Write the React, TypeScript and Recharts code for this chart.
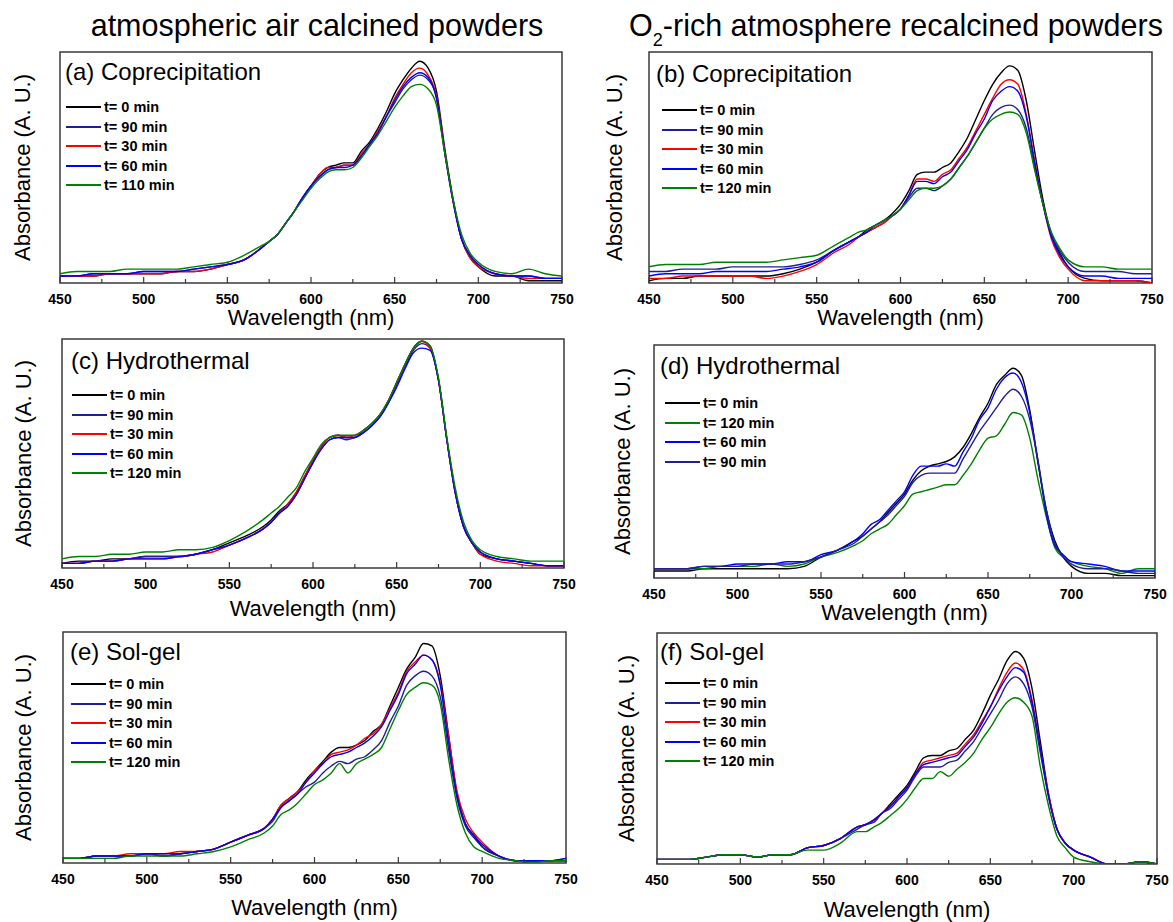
import React from 'react';
import { LineChart, Line, XAxis, YAxis, Legend, ReferenceArea } from 'recharts';

const FONT = 'Arial, "Liberation Sans", Helvetica, sans-serif';
const FRAME = '#3a3a3a';

// shared wavelength grid (nm)
const wavelengths = [450, 460, 470, 480, 490, 500, 510, 520, 530, 540,
  550, 560, 570, 575, 580, 585, 590, 595, 600, 605,
  610, 615, 620, 625, 630, 635, 640, 645, 650, 655,
  660, 665, 670, 675, 680, 685, 690, 695, 700, 710,
  720, 730, 740, 750];
const xTicks = [450, 475, 500, 525, 550, 575, 600, 625, 650, 675, 700, 725, 750];

const COLOR_BLACK = '#000000';
const COLOR_NAVY = '#1f1f96';
const COLOR_RED = '#ff0000';
const COLOR_BLUE = '#0000ff';
const COLOR_GREEN = '#008000';

// (a) atmospheric air, coprecipitation (absorbance, % of axis height)
const aT0 = [3,3,3,4,4,4,4,5,5,6, 8,10,15,18,21,26,31,37,42,47, 50,51,52,52,57,61,67,74,82,88, 93,96,93,83,58,36,19,11,7,3, 3,1,1,1];
const aT90 = [3,3,4,4,4,5,5,5,6,7, 8,10,15,18,21,26,31,37,42,46, 49,50,51,51,55,60,65,72,78,84, 88,90,88,80,56,35,19,12,8,4, 3,3,2,2];
const aT30 = [3,3,3,4,4,4,4,5,5,6, 8,10,15,18,21,26,31,37,42,47, 50,50,51,51,56,60,66,72,80,86, 91,93,90,81,57,35,19,11,7,4, 3,2,2,2];
const aT60 = [3,3,4,4,4,5,5,5,6,7, 8,10,15,18,21,26,31,37,42,46, 49,50,50,51,55,60,65,72,79,85, 89,91,89,80,56,35,19,12,8,4, 3,3,2,2];
const aT110 = [4,5,5,5,6,6,6,6,7,8, 9,12,16,18,21,26,31,36,41,45, 48,49,49,50,54,59,64,70,76,81, 85,86,84,77,56,36,21,13,9,5, 4,6,4,3];

// (b) O2-rich, coprecipitation
const bT0 = [1,2,2,3,3,3,3,3,4,6, 9,14,18,20,23,25,27,30,34,40, 47,48,48,50,52,57,63,71,79,86, 91,94,92,79,57,36,21,13,7,2, 1,1,1,0];
const bT90 = [5,5,6,6,6,7,7,7,7,8, 10,14,18,20,22,24,26,29,32,37, 41,41,40,42,45,50,55,61,67,73, 76,77,75,67,50,34,21,14,9,5, 5,5,4,4];
const bT30 = [2,2,3,3,3,3,3,2,3,5, 8,13,17,20,22,24,26,29,32,38, 45,45,44,47,49,54,59,66,73,80, 86,88,86,73,53,34,19,11,6,1, 1,1,1,0];
const bT60 = [3,4,4,4,5,5,5,5,6,7, 9,14,18,20,22,25,27,29,32,38, 44,44,43,46,48,53,58,65,71,79, 83,85,83,72,52,34,20,12,7,3, 3,2,2,2];
const bT120 = [7,8,8,8,9,9,9,9,10,11, 12,16,20,22,23,25,27,29,32,36, 40,41,41,42,45,50,55,61,67,71, 73,74,73,65,49,34,22,15,10,7, 7,6,6,6];

// (c) atmospheric air, hydrothermal
const cT0 = [2,3,3,4,4,5,5,5,6,8, 11,14,18,21,25,28,33,40,47,53, 57,58,57,57,60,63,67,73,81,89, 96,99,97,82,56,33,18,11,6,4, 3,2,1,1];
const cT90 = [2,2,3,3,4,5,5,5,6,8, 10,13,17,20,24,27,32,39,46,52, 56,57,56,57,59,62,66,72,80,88, 95,98,96,82,56,33,18,11,7,4, 3,2,1,1];
const cT30 = [2,2,3,3,4,4,4,5,6,7, 10,13,17,20,24,28,33,40,47,53, 57,58,57,58,60,63,67,73,81,89, 96,99,96,82,56,33,18,11,6,3, 2,1,1,1];
const cT60 = [2,2,3,3,4,4,4,5,6,8, 10,13,17,20,24,27,32,39,46,52, 56,57,57,57,59,62,66,72,79,87, 94,96,95,82,56,33,18,11,7,4, 3,2,1,1];
const cT120 = [4,5,5,6,6,7,7,8,8,9, 12,16,21,24,27,31,35,42,48,54, 57,58,58,58,60,63,67,73,81,89, 96,99,97,83,57,35,20,12,8,5, 4,3,3,3];

// (d) O2-rich, hydrothermal
const dT0 = [3,3,3,4,4,4,4,4,4,5, 9,12,16,18,21,24,28,32,36,42, 46,48,49,50,52,56,62,69,75,83, 87,90,87,72,49,29,16,9,5,2, 2,1,1,1];
const dT120 = [4,4,4,4,5,5,5,6,5,6, 9,11,14,16,19,21,23,27,31,36, 37,38,39,40,40,44,49,55,60,61, 66,71,70,60,42,26,13,9,7,5, 4,2,4,4];
const dT60 = [4,4,4,5,5,6,6,6,7,7, 10,12,16,19,23,25,29,33,37,44, 48,48,48,49,48,54,60,68,73,81, 86,88,84,71,50,27,14,10,7,6, 5,3,3,3];
const dT90 = [4,4,4,5,5,5,6,6,6,7, 9,12,15,18,21,24,27,31,35,41, 44,45,45,45,45,51,57,63,68,73, 78,81,78,68,50,29,15,9,6,4, 4,3,2,2];

// (e) atmospheric air, sol-gel
const eT0 = [2,2,3,3,3,4,3,4,5,6, 9,12,15,19,25,28,31,36,40,44, 48,50,50,51,53,57,60,68,76,84, 89,95,94,81,55,30,17,12,7,3, 1,1,1,1];
const eT90 = [2,2,3,3,3,4,3,4,5,6, 9,12,15,18,24,27,30,33,35,39, 42,44,43,45,46,49,53,61,68,77, 81,83,81,72,49,28,16,11,7,3, 1,1,1,2];
const eT30 = [2,2,3,3,4,4,4,5,5,6, 9,12,15,19,25,28,31,35,40,43, 47,48,49,51,54,56,60,67,74,83, 87,90,88,78,55,31,19,13,9,3, 1,1,1,1];
const eT60 = [2,2,3,3,3,4,4,4,5,6, 9,12,15,19,24,27,30,35,39,43, 46,47,48,50,52,55,59,66,73,82, 86,90,88,77,52,29,17,12,8,3, 1,1,1,2];
const eT120 = [2,2,2,2,3,3,3,3,4,5, 7,10,13,16,21,23,26,30,34,36, 39,43,39,43,45,47,50,58,66,73, 76,78,77,69,45,25,13,7,5,2, 1,0,1,1];

// (f) O2-rich, sol-gel
const fT0 = [2,2,2,3,4,4,3,4,4,7, 8,11,16,17,19,22,26,30,34,40, 46,47,47,49,50,54,58,65,73,80, 88,92,89,76,53,30,15,9,6,3, 0,0,1,0];
const fT90 = [2,2,2,3,4,4,3,4,4,7, 8,11,15,17,18,22,24,28,32,38, 42,42,42,44,45,49,53,59,65,71, 78,81,78,68,48,29,15,9,6,3, 0,0,1,0];
const fT30 = [2,2,2,3,4,4,3,4,4,7, 8,11,16,17,19,22,25,29,33,39, 44,45,46,47,48,52,56,62,68,76, 83,87,84,71,50,30,15,9,6,3, 0,0,1,0];
const fT60 = [2,2,2,3,4,4,3,4,4,7, 8,11,16,17,19,22,25,29,33,39, 43,44,45,46,47,51,55,61,68,75, 81,85,83,70,50,29,15,9,6,3, 0,0,1,0];
const fT120 = [2,2,2,3,4,4,3,4,4,6, 6,9,14,14,16,18,21,24,28,33, 37,37,40,38,41,44,48,54,59,65, 70,72,70,64,42,25,12,7,3,1, 0,0,1,0];

type Series = { name: string; color: string; values: number[] };
type PanelDef = { id: string; label: string; series: Series[] };

const panels: PanelDef[] = [
  { id: 'a', label: '(a) Coprecipitation', series: [
    { name: 't= 0 min', color: COLOR_BLACK, values: aT0 },
    { name: 't= 90 min', color: COLOR_NAVY, values: aT90 },
    { name: 't= 30 min', color: COLOR_RED, values: aT30 },
    { name: 't= 60 min', color: COLOR_BLUE, values: aT60 },
    { name: 't= 110 min', color: COLOR_GREEN, values: aT110 },
  ] },
  { id: 'b', label: '(b) Coprecipitation', series: [
    { name: 't= 0 min', color: COLOR_BLACK, values: bT0 },
    { name: 't= 90 min', color: COLOR_NAVY, values: bT90 },
    { name: 't= 30 min', color: COLOR_RED, values: bT30 },
    { name: 't= 60 min', color: COLOR_BLUE, values: bT60 },
    { name: 't= 120 min', color: COLOR_GREEN, values: bT120 },
  ] },
  { id: 'c', label: '(c) Hydrothermal', series: [
    { name: 't= 0 min', color: COLOR_BLACK, values: cT0 },
    { name: 't= 90 min', color: COLOR_NAVY, values: cT90 },
    { name: 't= 30 min', color: COLOR_RED, values: cT30 },
    { name: 't= 60 min', color: COLOR_BLUE, values: cT60 },
    { name: 't= 120 min', color: COLOR_GREEN, values: cT120 },
  ] },
  { id: 'd', label: '(d) Hydrothermal', series: [
    { name: 't= 0 min', color: COLOR_BLACK, values: dT0 },
    { name: 't= 120 min', color: COLOR_GREEN, values: dT120 },
    { name: 't= 60 min', color: COLOR_BLUE, values: dT60 },
    { name: 't= 90 min', color: COLOR_NAVY, values: dT90 },
  ] },
  { id: 'e', label: '(e) Sol-gel', series: [
    { name: 't= 0 min', color: COLOR_BLACK, values: eT0 },
    { name: 't= 90 min', color: COLOR_NAVY, values: eT90 },
    { name: 't= 30 min', color: COLOR_RED, values: eT30 },
    { name: 't= 60 min', color: COLOR_BLUE, values: eT60 },
    { name: 't= 120 min', color: COLOR_GREEN, values: eT120 },
  ] },
  { id: 'f', label: '(f) Sol-gel', series: [
    { name: 't= 0 min', color: COLOR_BLACK, values: fT0 },
    { name: 't= 90 min', color: COLOR_NAVY, values: fT90 },
    { name: 't= 30 min', color: COLOR_RED, values: fT30 },
    { name: 't= 60 min', color: COLOR_BLUE, values: fT60 },
    { name: 't= 120 min', color: COLOR_GREEN, values: fT120 },
  ] },
];

// page layout (pixel positions of each plot frame and its texts)
const LAYOUT: Record<string, any> = {
  a: { left: 60, right: 562, top: 52, bottom: 283, labelX: 65, labelBase: 80, legX: 66, legY: 107, yLabX: 30, xLabBase: 325 },
  b: { left: 649, right: 1152, top: 52, bottom: 283, labelX: 656, labelBase: 82, legX: 662, legY: 110, yLabX: 622, xLabBase: 325 },
  c: { left: 62, right: 564, top: 339, bottom: 568, labelX: 71, labelBase: 369, legX: 72, legY: 395, yLabX: 31, xLabBase: 616 },
  d: { left: 654, right: 1155, top: 345, bottom: 578, labelX: 660, labelBase: 374, legX: 665, legY: 403, yLabX: 630, xLabBase: 620 },
  e: { left: 63, right: 566, top: 632, bottom: 863, labelX: 70, labelBase: 660, legX: 71, legY: 684, yLabX: 31, xLabBase: 915 },
  f: { left: 657, right: 1157, top: 633, bottom: 864, labelX: 660, labelBase: 660, legX: 665, legY: 683, yLabX: 634, xLabBase: 917 },
};
const M = { top: 8, right: 16, bottom: 2, left: 20 };
const AXIS_H = 30;
const ROW_H = 19.5;

function XTick(props: any) {
  const { x, y, payload } = props;
  const v = payload ? payload.value : 0;
  const major = v % 50 === 0;
  return (
    <g>
      <line x1={x} y1={y} x2={x} y2={y - (major ? 6 : 4)} stroke={FRAME} strokeWidth={1.2} />
      {major ? (
        <text x={x} y={y + 21} textAnchor="middle" fontFamily={FONT} fontWeight="bold" fontSize={14} fill="#000">{v}</text>
      ) : null}
    </g>
  );
}

function Panel({ p }: { p: PanelDef }) {
  const L = LAYOUT[p.id];
  const rows = wavelengths.map((w, i) => {
    const r: any = { w };
    p.series.forEach((s, k) => { r['s' + k] = s.values[i]; });
    return r;
  });
  const width = L.right - L.left + M.left + M.right;
  const height = L.bottom - L.top + M.top + M.bottom + AXIS_H;
  const order = p.series.map((s) => s.name);
  const renderLegend = (props: any) => {
    const items = [...(props.payload || [])].sort((u: any, v: any) => order.indexOf(u.value) - order.indexOf(v.value));
    return (
      <div style={{ fontFamily: FONT, fontWeight: 'bold', fontSize: 14.5, color: '#000' }}>
        {items.map((e: any) => (
          <div key={e.value} style={{ display: 'flex', alignItems: 'center', height: ROW_H, whiteSpace: 'nowrap' }}>
            <span style={{ display: 'inline-block', width: 35, height: 0, borderTop: `2px solid ${e.color}`, marginRight: 3 }} />
            <span>{e.value}</span>
          </div>
        ))}
      </div>
    );
  };
  return (
    <div style={{ position: 'absolute', left: L.left - M.left, top: L.top - M.top }}>
      <LineChart width={width} height={height} data={rows} margin={M}>
        <XAxis dataKey="w" type="number" domain={[450, 750]} ticks={xTicks} interval={0} tick={<XTick />}
          tickLine={false} tickSize={0} tickMargin={0} height={AXIS_H} axisLine={false} allowDataOverflow />
        <YAxis type="number" domain={[0, 100]} hide allowDataOverflow />
        <ReferenceArea x1={450} x2={750} y1={0} y2={100} fill="none" stroke={FRAME} strokeWidth={1.5} ifOverflow="visible" />
        <Legend layout="vertical" align="center" verticalAlign="middle" content={renderLegend}
          wrapperStyle={{ left: L.legX - (L.left - M.left), top: L.legY - ROW_H / 2 - (L.top - M.top), width: 'auto', height: 'auto' }} />
        {p.series.map((s, k) => (
          <Line key={k} type="monotone" dataKey={'s' + k} name={s.name} stroke={s.color} strokeWidth={1.4}
            dot={false} activeDot={false} isAnimationActive={false} />
        ))}
      </LineChart>
    </div>
  );
}

export default function App() {
  return (
    <div style={{ position: 'absolute', left: 0, top: 0, width: 1173, height: 922, overflow: 'hidden', background: '#fff' }}>
      {panels.map((p) => <Panel key={p.id} p={p} />)}
      <svg width={1173} height={922} style={{ position: 'absolute', left: 0, top: 0, pointerEvents: 'none' }}>
        <text x={317} y={36} textAnchor="middle" fontFamily={FONT} fontSize={30.5} fill="#000">atmospheric air calcined powders</text>
        <text x={896} y={36} textAnchor="middle" fontFamily={FONT} fontSize={30.5} fill="#000">
          O<tspan fontSize={18} dy={10}>2</tspan><tspan dy={-10}>-rich atmosphere recalcined powders</tspan>
        </text>
        {panels.map((p) => {
          const L = LAYOUT[p.id];
          const cy = (L.top + L.bottom) / 2;
          const cx = (L.left + L.right) / 2;
          return (
            <g key={p.id}>
              <text x={L.labelX} y={L.labelBase} fontFamily={FONT} fontSize={24} fill="#000">{p.label}</text>
              <text x={cx} y={L.xLabBase} textAnchor="middle" fontFamily={FONT} fontSize={22} fill="#000">Wavelength (nm)</text>
              <text x={L.yLabX} y={cy} transform={`rotate(-90 ${L.yLabX} ${cy})`} textAnchor="middle" fontFamily={FONT} fontSize={22} fill="#000">Absorbance (A. U.)</text>
            </g>
          );
        })}
      </svg>
    </div>
  );
}
